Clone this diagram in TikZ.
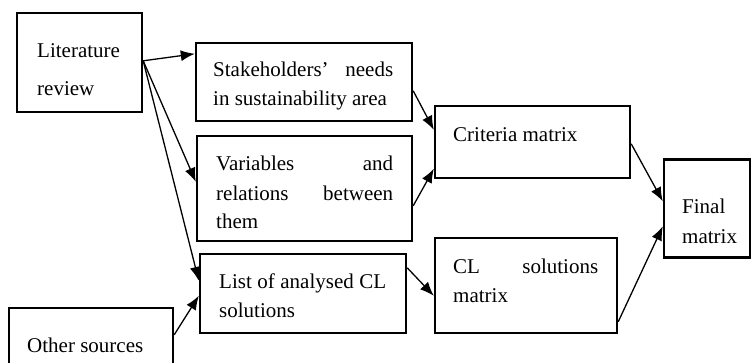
\documentclass[tikz,border=0pt]{standalone}
\usepackage{fontspec}
\setmainfont{Liberation Serif}
\usetikzlibrary{arrows.meta,calc}

\tikzset{
  box/.style={draw, line width=2.4pt, rectangle, inner sep=0pt, minimum width=#1},
  txt/.style={anchor=base west, inner sep=0pt, font=\fontsize{21}{24}\selectfont},
  flow/.style={line width=1.3pt, -{Latex[length=14pt,width=11pt]}}
}

\begin{document}
\begin{tikzpicture}[x=1pt,y=-1pt]
\useasboundingbox (0,0) rectangle (752,362);
\clip (0,0) rectangle (752,362);

% boxes
\node[box=125pt, minimum height=99pt] (lit)   at (79.5,62.5)  {};
\node[box=216pt, minimum height=78pt] (stake) at (304,82)     {};
\node[box=215pt, minimum height=105pt] (var)  at (304.5,188.5){};
\node[box=206pt, minimum height=79pt] (list)  at (303,293.5)  {};
\node[box=164pt, minimum height=66pt] (other) at (91,341)     {};
\node[box=195pt, minimum height=72pt] (crit)  at (532.5,142)  {};
\node[box=182pt, minimum height=95pt] (clm)   at (526,285.5)  {};
\node[box=86pt,  minimum height=98pt] (final) at (707,208.5)  {};

% texts
\node[txt] (lit-a)   at (37,57)   {Literature};
\node[txt] (lit-b)   at (37,95)   {review};
\node[txt] (stake-a) at (213,76.5){\makebox[180pt][s]{Stakeholders’ needs}};
\node[txt] (stake-b) at (213,105) {in sustainability area};
\node[txt] (var-a)   at (216,170) {\makebox[177pt][s]{Variables and}};
\node[txt] (var-b)   at (216,200) {\makebox[177pt][s]{relations between}};
\node[txt] (var-c)   at (216,228) {them};
\node[txt] (list-a)  at (219,288) {\makebox[167pt][s]{List of analysed CL}};
\node[txt] (list-b)  at (219,317) {solutions};
\node[txt] (other-a) at (27,352)  {Other sources};
\node[txt] (crit-a)  at (453,141) {Criteria matrix};
\node[txt] (clm-a)   at (453,273) {\makebox[145pt][s]{CL solutions}};
\node[txt] (clm-b)   at (453,302) {matrix};
\node[txt] (final-a) at (682,213) {Final};
\node[txt] (final-b) at (682,243) {matrix};

% connectors
\coordinate (litout) at ($(lit.north east)+(0,49)$);
\draw[flow] (litout) -- ($(stake.north west)+(0,12)$);
\draw[flow] (litout) -- ($(var.north west)+(0,47)$);
\draw[flow] (litout) -- ($(list.north west)+(0,28)$);
\draw[flow] ($(other.north east)+(0,28)$) -- ($(list.north west)+(0,43)$);
\draw[flow] ($(stake.north east)+(0,49)$) -- ($(crit.north west)+(0,25)$);
\draw[flow] ($(var.north east)+(0,71)$) -- ($(crit.north west)+(0,64)$);
\draw[flow] ($(list.north east)+(0,15)$) -- ($(clm.north west)+(0,59)$);
\draw[flow] ($(crit.north east)+(0,39)$) -- ($(final.north west)+(0,43)$);
\draw[flow] ($(clm.north east)+(0,85)$) -- ($(final.north west)+(0,68)$);
\end{tikzpicture}
\end{document}
